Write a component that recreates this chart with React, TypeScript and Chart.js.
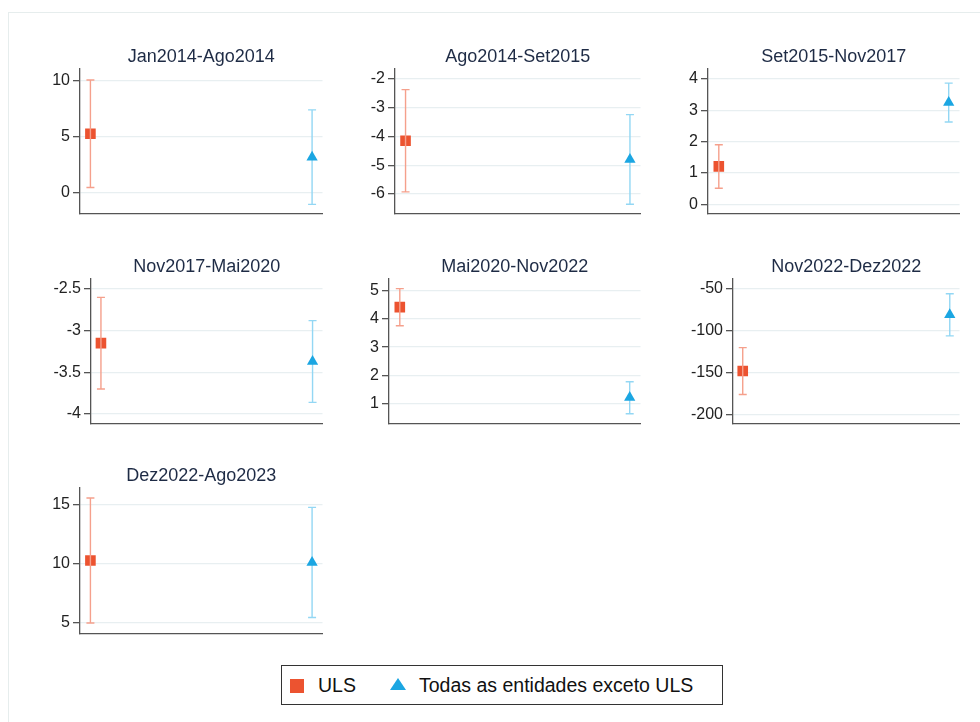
import React, { useEffect, useRef } from "react";
import { Chart, registerables } from "chart.js";
Chart.register(...registerables);

// ---- data ----
const titles = [
  "Jan2014-Ago2014",
  "Ago2014-Set2015",
  "Set2015-Nov2017",
  "Nov2017-Mai2020",
  "Mai2020-Nov2022",
  "Nov2022-Dez2022",
  "Dez2022-Ago2023",
];
const seriesNames = ["ULS", "Todas as entidades exceto ULS"];
const ulsEst = [5.25, -4.15, 1.21, -3.15, 4.41, -148.3, 10.28];
const ulsLo = [0.44, -5.93, 0.51, -3.7, 3.75, -176.3, 5.0];
const ulsHi = [10.06, -2.37, 1.9, -2.6, 5.06, -120.4, 15.56];
const othEst = [3.15, -4.8, 3.25, -3.37, 1.22, -81.2, 10.12];
const othLo = [-1.07, -6.36, 2.63, -3.86, 0.65, -106.3, 5.47];
const othHi = [7.38, -3.24, 3.87, -2.88, 1.78, -56.0, 14.77];
const yTicks = [
  [0, 5, 10],
  [-6, -5, -4, -3, -2],
  [0, 1, 2, 3, 4],
  [-4, -3.5, -3, -2.5],
  [1, 2, 3, 4, 5],
  [-200, -150, -100, -50],
  [5, 10, 15],
];
const yMin = [-1.93, -6.7, -0.31, -4.12, 0.29, -211.6, 4.07];
const yMax = [11.04, -1.65, 4.32, -2.38, 5.4, -38.4, 16.41];

// ---- layout (plot area: left, right, top, bottom) ----
const panelBoxes = [
  [80, 326, 69, 214],
  [395, 644, 69, 214],
  [708, 963, 69, 214],
  [91, 326, 279, 424],
  [389, 644, 279, 424],
  [733, 963, 279, 424],
  [80, 326, 488, 634],
];

const FONT = "'Liberation Sans', Arial, sans-serif";
const ULS_COLOR = "#ec5330";
const ULS_BAR = "#f5a08c";
const OTH_COLOR = "#1ba6e2";
const OTH_BAR = "#93d7f4";
const AXIS = "#555555";

function Panel({ idx }: { idx: number }) {
  const ref = useRef<HTMLCanvasElement>(null);
  const [pl, pr, pt, pb] = panelBoxes[idx];
  const AXW = 70;
  const TOP = 40;
  const BOT = 12;
  const RIGHT = 4;
  const left = pl - AXW;
  const top = pt - TOP;
  const width = pr - left + RIGHT;
  const height = pb - top + BOT;

  useEffect(() => {
    const drawBar = (chart: any, xv: number, lo: number, hi: number, color: string) => {
      const { ctx, scales } = chart;
      const x = scales.x.getPixelForValue(xv);
      const y1 = scales.y.getPixelForValue(lo);
      const y2 = scales.y.getPixelForValue(hi);
      ctx.save();
      ctx.strokeStyle = color;
      ctx.lineWidth = 1.4;
      ctx.beginPath();
      ctx.moveTo(x, y1);
      ctx.lineTo(x, y2);
      ctx.moveTo(x - 4, y1);
      ctx.lineTo(x + 4, y1);
      ctx.moveTo(x - 4, y2);
      ctx.lineTo(x + 4, y2);
      ctx.stroke();
      ctx.restore();
    };
    const errorBars = {
      id: "errorBars",
      beforeDatasetsDraw(chart: any) {
        drawBar(chart, 1, othLo[idx], othHi[idx], OTH_BAR);
      },
      afterDatasetsDraw(chart: any) {
        drawBar(chart, 0, ulsLo[idx], ulsHi[idx], ULS_BAR);
      },
    };
    const panelTitle = {
      id: "panelTitle",
      afterDraw(chart: any) {
        const { ctx, chartArea } = chart;
        ctx.save();
        ctx.font = `18px ${FONT}`;
        ctx.fillStyle = "#1e2b45";
        ctx.textAlign = "center";
        ctx.textBaseline = "alphabetic";
        ctx.fillText(titles[idx], (chartArea.left + chartArea.right) / 2, chartArea.top - 6.6);
        ctx.restore();
      },
    };
    const chart = new Chart(ref.current!, {
      type: "scatter",
      data: {
        datasets: [
          {
            label: seriesNames[0],
            data: [{ x: 0, y: ulsEst[idx] }],
            pointStyle: "rect",
            pointRadius: 7.5,
            backgroundColor: ULS_COLOR,
            borderWidth: 0,
          },
          {
            label: seriesNames[1],
            data: [{ x: 1, y: othEst[idx] }],
            pointStyle: "triangle",
            pointRadius: 6.5,
            backgroundColor: OTH_COLOR,
            borderWidth: 0,
          },
        ],
      },
      options: {
        responsive: false,
        animation: false,
        layout: { padding: { left: 0, right: RIGHT, top: TOP, bottom: BOT } },
        plugins: {
          legend: { display: false },
          tooltip: { enabled: false },
          title: { display: false },
        },
        scales: {
          x: {
            type: "linear",
            min: -0.047,
            max: 1.047,
            ticks: { display: false },
            grid: { display: true, color: "rgba(0,0,0,0)", drawTicks: false },
            border: { display: true, color: AXIS, width: 1.3 },
            afterFit(s: any) {
              s.height = 0;
              s.paddingLeft = 0;
              s.paddingRight = 0;
            },
          },
          y: {
            type: "linear",
            min: yMin[idx],
            max: yMax[idx],
            afterBuildTicks(s: any) {
              s.ticks = yTicks[idx].map((v) => ({ value: v }));
            },
            afterFit(s: any) {
              s.width = AXW;
              s.paddingTop = 0;
              s.paddingBottom = 0;
            },
            ticks: {
              color: "#222222",
              font: { family: FONT, size: 16 },
              padding: 3,
              callback: (v: any) => String(v),
            },
            grid: {
              color: "#e8eff1",
              lineWidth: 1.3,
              tickColor: AXIS,
              tickLength: 7,
              tickWidth: 1.3,
            },
            border: { display: true, color: AXIS, width: 1.3 },
          },
        },
      },
      plugins: [errorBars, panelTitle],
    } as any);
    return () => chart.destroy();
  }, [idx]);

  return (
    <canvas
      ref={ref}
      width={width}
      height={height}
      style={{ position: "absolute", left, top, width, height }}
    />
  );
}

export default function App() {
  return (
    <div
      style={{
        position: "fixed",
        left: 0,
        top: 0,
        width: 980,
        height: 722,
        background: "#ffffff",
        overflow: "hidden",
      }}
    >
      <div
        style={{
          position: "absolute",
          left: 8,
          top: 12,
          width: 1000,
          height: 800,
          borderLeft: "1px solid #e6eded",
          borderTop: "1px solid #e6eded",
        }}
      />
      {titles.map((_, i) => (
        <Panel key={i} idx={i} />
      ))}
      <div
        style={{
          position: "absolute",
          left: 281,
          top: 665,
          width: 442,
          height: 40,
          boxSizing: "border-box",
          border: "1.3px solid #333333",
          fontFamily: FONT,
          fontSize: 19.5,
          color: "#111111",
          background: "#ffffff",
        }}
      >
        <div
          style={{
            position: "absolute",
            left: 8,
            top: 12.5,
            width: 14,
            height: 14,
            background: ULS_COLOR,
          }}
        />
        <span style={{ position: "absolute", left: 36, top: 9, lineHeight: "20px", whiteSpace: "nowrap" }}>
          {seriesNames[0]}
        </span>
        <div
          style={{
            position: "absolute",
            left: 108,
            top: 11.5,
            width: 0,
            height: 0,
            borderLeft: "8.5px solid transparent",
            borderRight: "8.5px solid transparent",
            borderBottom: "12px solid " + OTH_COLOR,
          }}
        />
        <span style={{ position: "absolute", left: 137, top: 9, lineHeight: "20px", whiteSpace: "nowrap" }}>
          {seriesNames[1]}
        </span>
      </div>
    </div>
  );
}
